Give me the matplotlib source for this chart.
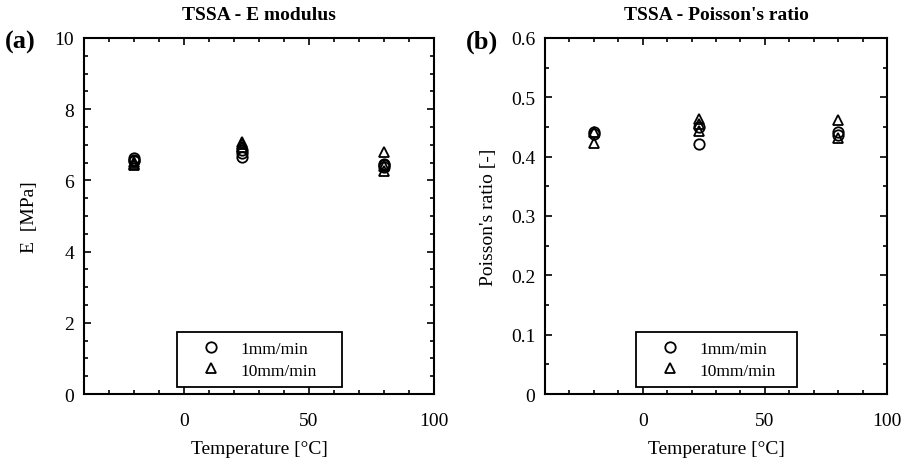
import matplotlib
matplotlib.use("Agg")
import matplotlib.pyplot as plt
from matplotlib.ticker import MultipleLocator, FuncFormatter

plt.rcParams['font.family'] = ['Liberation Serif', 'DejaVu Serif']
plt.rcParams['mathtext.fontset'] = 'stix'

# temperatures [°C] and repeated specimens
temps = [-20, 23, 80]

E_1mm = [[6.63, 6.58, 6.55], [6.84, 6.77, 6.67], [6.46, 6.42, 6.38]]
E_10mm = [[6.52, 6.47, 6.44], [7.09, 7.03, 6.95], [6.81, 6.41, 6.25]]

nu_1mm = [[0.441, 0.438], [0.421, 0.450], [0.441, 0.436]]
nu_10mm = [[0.442, 0.423], [0.463, 0.455, 0.443], [0.462, 0.432]]

labels = ['1mm/min', '10mm/min']


def flatten(groups):
    xs, ys = [], []
    for t, vals in zip(temps, groups):
        for v in vals:
            xs.append(t)
            ys.append(v)
    return xs, ys


def style_axes(ax, ymax, ymajor, yminor):
    ax.set_xlim(-40, 100)
    ax.set_ylim(0, ymax)
    ax.xaxis.set_major_locator(MultipleLocator(50))
    ax.xaxis.set_minor_locator(MultipleLocator(10))
    ax.yaxis.set_major_locator(MultipleLocator(ymajor))
    ax.yaxis.set_minor_locator(MultipleLocator(yminor))
    ax.tick_params(which='both', direction='in', top=True, right=True,
                   labelsize=14, width=1.2)
    ax.tick_params(which='major', length=5, pad=7)
    ax.tick_params(which='minor', length=3)
    ax.tick_params(axis='x', which='major', pad=13)
    for s in ax.spines.values():
        s.set_linewidth(1.5)


fig = plt.figure(figsize=(9.17, 4.6), dpi=100)
ax1 = fig.add_axes([0.0916, 0.1413, 0.3817, 0.774])
ax2 = fig.add_axes([0.5943, 0.1413, 0.3730, 0.774])

mk = dict(linestyle='none', markerfacecolor='none', markeredgecolor='black',
          markersize=7.5, markeredgewidth=1.3, color='black')

for ax, a, b in [(ax1, E_1mm, E_10mm), (ax2, nu_1mm, nu_10mm)]:
    x, y = flatten(a)
    ax.plot(x, y, marker='o', label=labels[0], **mk)
    x, y = flatten(b)
    ax.plot(x, y, marker='^', label=labels[1], **mk)
    leg = ax.legend(loc='lower left', bbox_to_anchor=(0.265, 0.019, 0.471, 0.16),
                    mode='expand', borderaxespad=0, fontsize=12.5, numpoints=1,
                    handlelength=2.95, handletextpad=0.2, borderpad=0.5,
                    labelspacing=0.3, fancybox=False, framealpha=1,
                    edgecolor='black')
    leg.get_frame().set_linewidth(1.3)

style_axes(ax1, 10, 2, 0.5)
style_axes(ax2, 0.6, 0.1, 0.05)
ax2.yaxis.set_major_formatter(FuncFormatter(lambda v, p: '0' if abs(v) < 1e-9 else f'{v:.1f}'))

ax1.set_xlabel('Temperature [°C]', fontsize=14, labelpad=8)
ax2.set_xlabel('Temperature [°C]', fontsize=14, labelpad=8)
ax1.set_ylabel('E  [MPa]', fontsize=14, labelpad=12)
ax2.set_ylabel("Poisson's ratio [-]", fontsize=14, labelpad=10)
ax1.set_title('TSSA - E modulus', fontsize=14, fontweight='bold', pad=14)
ax2.set_title("TSSA - Poisson's ratio", fontsize=14, fontweight='bold', pad=14)

fig.text(0.005, 1 - 42 / 460, '(a)', fontsize=19, fontweight='bold', va='center', ha='left')
fig.text(0.508, 1 - 42 / 460, '(b)', fontsize=19, fontweight='bold', va='center', ha='left')

fig.savefig('out.png', dpi=100)
